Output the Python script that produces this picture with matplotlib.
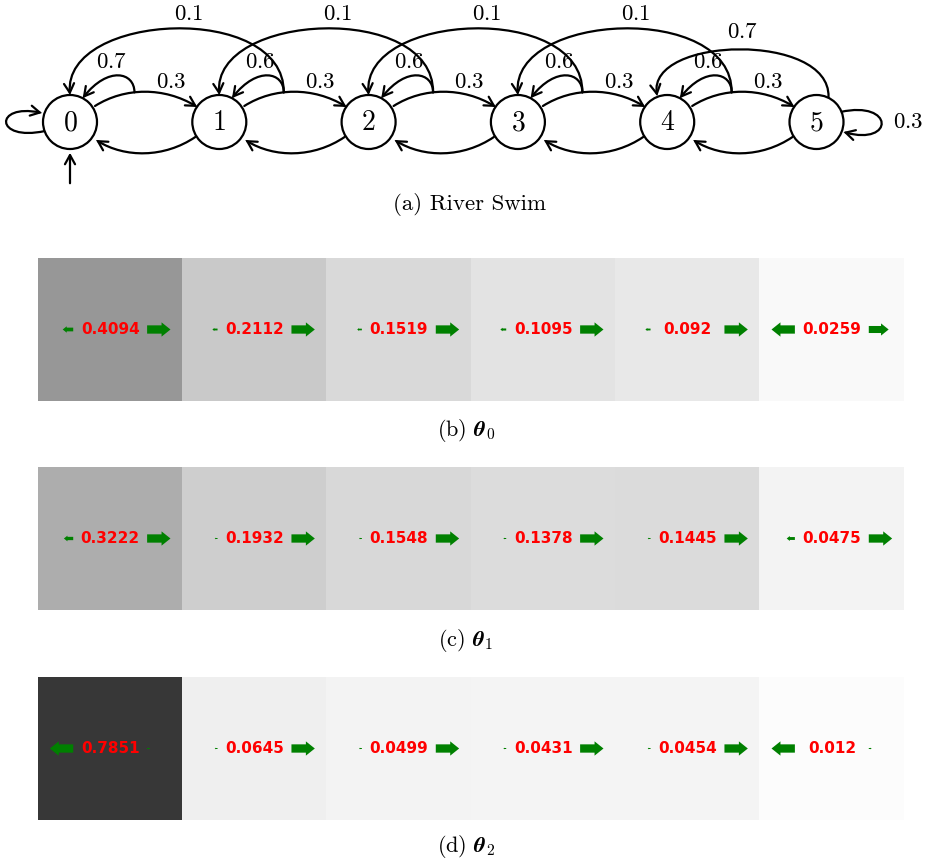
import numpy as np
import matplotlib
matplotlib.use("Agg")
import matplotlib.pyplot as plt
from matplotlib.path import Path
from matplotlib.patches import Circle, FancyArrowPatch

plt.rcParams['font.family'] = 'serif'
plt.rcParams['font.serif'] = ['cmr10', 'DejaVu Serif']
plt.rcParams['mathtext.fontset'] = 'cm'
plt.rcParams['axes.unicode_minus'] = False

# River Swim transition labels
states = [0, 1, 2, 3, 4, 5]
p_right = [0.3, 0.3, 0.3, 0.3, 0.3]
p_stay = [0.7, 0.6, 0.6, 0.6, 0.6]
p_back = [0.1, 0.1, 0.1, 0.1]
p_end_back = 0.7
p_end_stay = 0.3

# feature weights per state (theta_0, theta_1, theta_2)
theta0 = [0.4094, 0.2112, 0.1519, 0.1095, 0.092, 0.0259]
theta1 = [0.3222, 0.1932, 0.1548, 0.1378, 0.1445, 0.0475]
theta2 = [0.7851, 0.0645, 0.0499, 0.0431, 0.0454, 0.012]

# relative arrow sizes for the left / right actions
left0 = [0.45, 0.22, 0.2, 0.25, 0.22, 1.0]
right0 = [1.0, 1.0, 1.0, 1.0, 1.0, 0.85]
left1 = [0.4, 0.12, 0.12, 0.12, 0.12, 0.35]
right1 = [1.0, 1.0, 1.0, 1.0, 1.0, 1.0]
left2 = [1.0, 0.12, 0.12, 0.12, 0.12, 1.0]
right2 = [0.12, 1.0, 1.0, 1.0, 1.0, 0.12]

panels = [(theta0, left0, right0, r'(b) $\boldsymbol{\theta}_0$'),
          (theta1, left1, right1, r'(c) $\boldsymbol{\theta}_1$'),
          (theta2, left2, right2, r'(d) $\boldsymbol{\theta}_2$')]

W, H = 927, 860
fig = plt.figure(figsize=(W / 100, H / 100), dpi=100)

# ---- MDP diagram (axes in pixel units) ----
top_h = 225
ax = fig.add_axes([0, 1 - top_h / H, 1, top_h / H])
ax.set_xlim(0, W)
ax.set_ylim(top_h, 0)
ax.axis('off')

xs = [70 + 149.3 * i for i in states]
yc = 122
r = 27
lw = 1.6
astyle = '->,head_length=0.6,head_width=0.33'


def curve(pts, **kw):
    codes = [Path.MOVETO] + [Path.CURVE4] * (len(pts) - 1)
    p = FancyArrowPatch(path=Path(pts, codes), arrowstyle=astyle,
                        mutation_scale=11, lw=lw, color='black',
                        joinstyle='miter', **kw)
    ax.add_patch(p)


def bez(p0, p1, p2, p3, t):
    p0, p1, p2, p3 = map(np.array, (p0, p1, p2, p3))
    return ((1 - t) ** 3 * p0 + 3 * (1 - t) ** 2 * t * p1
            + 3 * (1 - t) * t ** 2 * p2 + t ** 3 * p3)


def num(v, x, y, **kw):
    ax.text(x, y, r'$%s$' % v, ha='center', va='center', fontsize=16.5, **kw)


for i, x in enumerate(xs):
    ax.add_patch(Circle((x, yc), r, fc='white', ec='black', lw=lw, zorder=3))
    ax.text(x, yc + 1, r'$%d$' % states[i], ha='center', va='center',
            fontsize=20, zorder=4)

for i in range(5):
    x0, x1 = xs[i], xs[i + 1]
    # forward arc i -> i+1
    up = [(x0 + 25, 106), (x0 + 55, 87), (x1 - 55, 87), (x1 - 22, 107)]
    curve(up)
    num(p_right[i], x0 + 101, 82)
    # backward arc i+1 -> i
    curve([(x1 - 24, 137), (x1 - 55, 158), (x0 + 55, 158), (x0 + 26, 140)])
    # branching point on the forward arc
    px, py = bez(*up, 0.4)
    ang = np.deg2rad(62)
    curve([(px, py), (px, 72), (x0 + 38, 66),
           (x0 + r * np.cos(ang), yc - r * np.sin(ang))])
    num(p_stay[i], x0 + 41, 62)
    if i > 0:
        curve([(px, py), (px + 1, 2), (xs[i - 1] - 7, 12), (xs[i - 1], yc - r)])
        num(p_back[i - 1], x0 - 31, 14)

# last state
x4, x5 = xs[4], xs[5]
curve([(x5 + 12, yc - r + 2), (x5 + 14, 32), (x4 - 20, 36), (x4 - 10, yc - r + 1)])
num(p_end_back, x4 + 75, 32)
curve([(x5 + 24, 112), (x5 + 78, 100), (x5 + 78, 146), (x5 + 27, 132)])
num(p_end_stay, x5 + 92, yc)

# self loop and start arrow on state 0
curve([(xs[0] - 25, 131), (-6, 142), (-6, 103), (xs[0] - 28, 113)])
ax.add_patch(FancyArrowPatch((xs[0], 186), (xs[0], yc + r + 1), arrowstyle=astyle,
                             mutation_scale=11, lw=lw, color='black'))

fig.text(470 / W, 1 - 205 / H, '(a) River Swim', ha='center', va='center',
         fontsize=16.5)

# ---- weight strips ----
tops = [258, 467, 677]
cap_y = [430, 640, 846]
strip_h = 143
for (vals, lft, rgt, cap), t, cy in zip(panels, tops, cap_y):
    axh = fig.add_axes([38 / W, 1 - (t + strip_h) / H, 866 / W, strip_h / H])
    axh.imshow(np.array(vals)[None, :], cmap='gray_r', vmin=0, vmax=1,
               aspect='auto', interpolation='nearest')
    axh.axis('off')
    for j, v in enumerate(vals):
        axh.text(j, 0, str(v), ha='center', va='center', color='red',
                 fontsize=11, fontweight='bold', family='DejaVu Sans')
        for sgn, s in ((-1, lft[j]), (1, rgt[j])):
            axh.arrow(j + sgn * 0.256, 0, sgn * 0.162 * s, 0, width=0.058 * s,
                      head_width=0.1 * s, head_length=0.062 * s,
                      length_includes_head=True, color='green', lw=0)
    fig.text(466 / W, 1 - cy / H, cap, ha='center', va='center', fontsize=16)

fig.savefig('out.png', dpi=100)
